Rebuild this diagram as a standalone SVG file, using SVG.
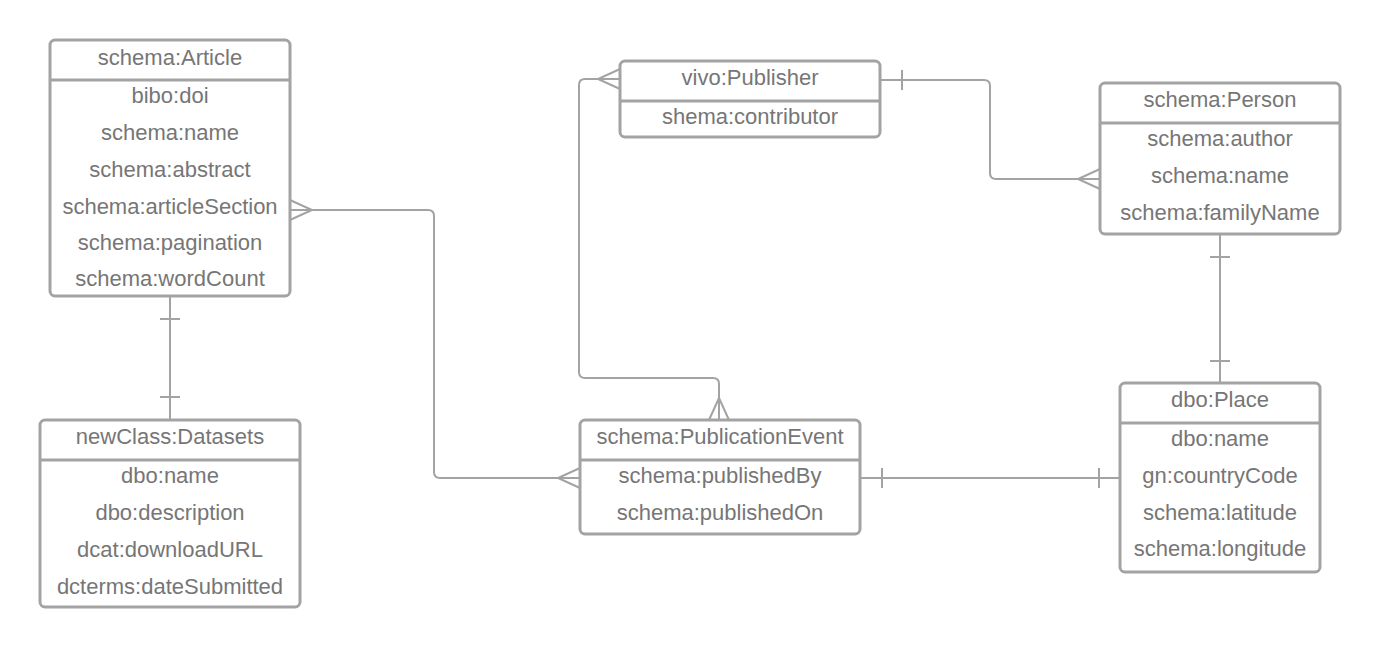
<svg xmlns="http://www.w3.org/2000/svg" width="1380" height="648" viewBox="0 0 1380 648">
<style>
.box{fill:#fff;stroke:#a3a3a3;stroke-width:3}
.div{stroke:#a3a3a3;stroke-width:3}
.t{font-family:"Liberation Sans",Arial,sans-serif;font-size:22px;fill:#767676;text-anchor:middle}
.c{fill:none;stroke:#a3a3a3;stroke-width:2}
</style>
<rect width="1380" height="648" fill="#fff"/>
<g id="connectors">
<path class="c" d="M290 210 H428 Q434 210 434 216 V472 Q434 478 440 478 H580"/>
<path class="c" d="M290 200 L312 210 L290 220 M580 468 L558 478 L580 488"/>
<path class="c" d="M170 296 V420 M160 319 H180 M160 397 H180"/>
<path class="c" d="M620 79 H585 Q579 79 579 85 V372 Q579 378 585 378 H713 Q719 378 719 384 V420"/>
<path class="c" d="M620 69 L598 79 L620 89 M709 420 L719 398 L729 420"/>
<path class="c" d="M880 80 H984 Q990 80 990 86 V173 Q990 179 996 179 H1100"/>
<path class="c" d="M902 70 V90 M1100 169 L1078 179 L1100 189"/>
<path class="c" d="M1220 234 V383 M1210 257 H1230 M1210 361 H1230"/>
<path class="c" d="M860 478 H1120 M882 468 V488 M1099 468 V488"/>
</g>
<g id="article">
<rect class="box" x="50" y="40" width="240" height="256" rx="5"/>
<line class="div" x1="50" y1="80" x2="290" y2="80"/>
<text class="t" x="170" y="65">schema:Article</text>
<text class="t" x="170" y="103">bibo:doi</text>
<text class="t" x="170" y="140">schema:name</text>
<text class="t" x="170" y="177">schema:abstract</text>
<text class="t" x="170" y="214">schema:articleSection</text>
<text class="t" x="170" y="250">schema:pagination</text>
<text class="t" x="170" y="286">schema:wordCount</text>
</g>
<g id="publisher">
<rect class="box" x="620" y="61" width="260" height="76" rx="5"/>
<line class="div" x1="620" y1="101" x2="880" y2="101"/>
<text class="t" x="750" y="85">vivo:Publisher</text>
<text class="t" x="750" y="124">shema:contributor</text>
</g>
<g id="person">
<rect class="box" x="1100" y="83" width="240" height="151" rx="5"/>
<line class="div" x1="1100" y1="123" x2="1340" y2="123"/>
<text class="t" x="1220" y="107">schema:Person</text>
<text class="t" x="1220" y="146">schema:author</text>
<text class="t" x="1220" y="183">schema:name</text>
<text class="t" x="1220" y="220">schema:familyName</text>
</g>
<g id="datasets">
<rect class="box" x="40" y="420" width="260" height="187" rx="5"/>
<line class="div" x1="40" y1="460" x2="300" y2="460"/>
<text class="t" x="170" y="444">newClass:Datasets</text>
<text class="t" x="170" y="483">dbo:name</text>
<text class="t" x="170" y="520">dbo:description</text>
<text class="t" x="170" y="557">dcat:downloadURL</text>
<text class="t" x="170" y="594">dcterms:dateSubmitted</text>
</g>
<g id="publicationEvent">
<rect class="box" x="580" y="420" width="280" height="114" rx="5"/>
<line class="div" x1="580" y1="460" x2="860" y2="460"/>
<text class="t" x="720" y="444">schema:PublicationEvent</text>
<text class="t" x="720" y="483">schema:publishedBy</text>
<text class="t" x="720" y="520">schema:publishedOn</text>
</g>
<g id="place">
<rect class="box" x="1120" y="383" width="200" height="189" rx="5"/>
<line class="div" x1="1120" y1="423" x2="1320" y2="423"/>
<text class="t" x="1220" y="407">dbo:Place</text>
<text class="t" x="1220" y="446">dbo:name</text>
<text class="t" x="1220" y="483">gn:countryCode</text>
<text class="t" x="1220" y="520">schema:latitude</text>
<text class="t" x="1220" y="556">schema:longitude</text>
</g>
</svg>
